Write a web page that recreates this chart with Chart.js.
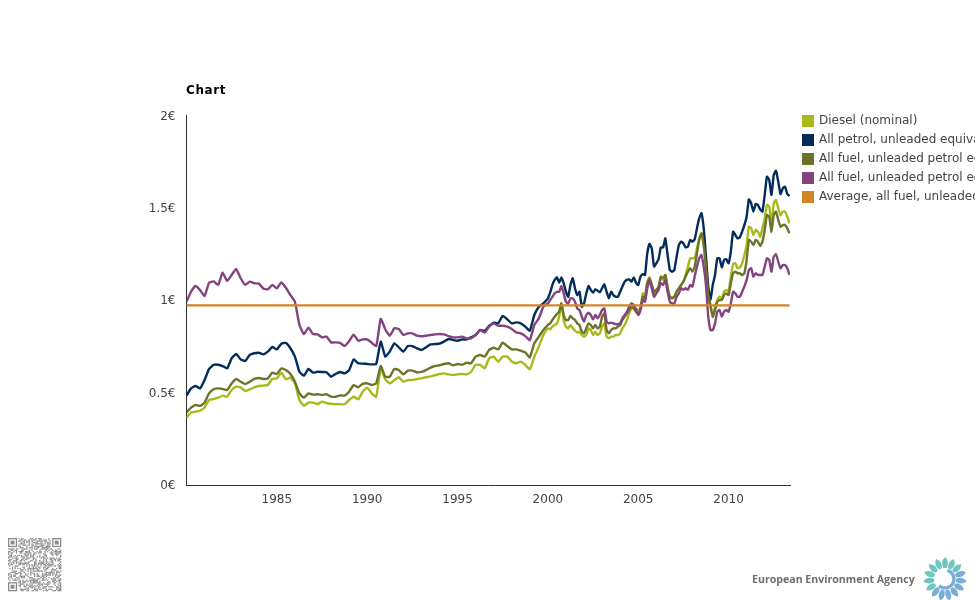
<!DOCTYPE html>
<html>
<head>
<meta charset="utf-8">
<title>Chart</title>
<script src="https://cdn.jsdelivr.net/npm/chart.js@4/dist/chart.umd.min.js"></script>
<style>
  html, body { margin: 0; padding: 0; background: #fff; overflow: hidden; }
  canvas { display: block; }
</style>
</head>
<body>
<canvas id="fuelChart" width="975" height="600"></canvas>
<script>
// Quarterly up to 1999, every 1.5 months after that
const years = [
  1980,1980.25,1980.5,1980.75, 1981,1981.25,1981.5,1981.75, 1982,1982.25,1982.5,1982.75, 1983,1983.25,1983.5,1983.75,
  1984,1984.25,1984.5,1984.75, 1985,1985.25,1985.5,1985.75, 1986,1986.25,1986.5,1986.75, 1987,1987.25,1987.5,1987.75,
  1988,1988.25,1988.5,1988.75, 1989,1989.25,1989.5,1989.75, 1990,1990.25,1990.5,1990.75, 1991,1991.25,1991.5,1991.75,
  1992,1992.25,1992.5,1992.75, 1993,1993.25,1993.5,1993.75, 1994,1994.25,1994.5,1994.75, 1995,1995.25,1995.5,1995.75,
  1996,1996.25,1996.5,1996.75, 1997,1997.25,1997.5,1997.75, 1998,1998.25,1998.5,1998.75, 1999,1999.25,1999.5,1999.75,
  2000,2000.125,2000.25,2000.375,2000.5,2000.625,2000.75,2000.875,
  2001,2001.125,2001.25,2001.375,2001.5,2001.625,2001.75,2001.875,
  2002,2002.125,2002.25,2002.375,2002.5,2002.625,2002.75,2002.875,
  2003,2003.125,2003.25,2003.375,2003.5,2003.625,2003.75,2003.875,
  2004,2004.125,2004.25,2004.375,2004.5,2004.625,2004.75,2004.875,
  2005,2005.125,2005.25,2005.375,2005.5,2005.625,2005.75,2005.875,
  2006,2006.125,2006.25,2006.375,2006.5,2006.625,2006.75,2006.875,
  2007,2007.125,2007.25,2007.375,2007.5,2007.625,2007.75,2007.875,
  2008,2008.125,2008.25,2008.375,2008.5,2008.625,2008.75,2008.875,
  2009,2009.125,2009.25,2009.375,2009.5,2009.625,2009.75,2009.875,
  2010,2010.125,2010.25,2010.375,2010.5,2010.625,2010.75,2010.875,
  2011,2011.125,2011.25,2011.375,2011.5,2011.625,2011.75,2011.875,
  2012,2012.125,2012.25,2012.375,2012.5,2012.625,2012.75,2012.875,
  2013,2013.125,2013.25,2013.375
];

const diesel = [
  .366,.392,.397,.402, .420,.460,.465,.473, .484,.478,.514,.532, .527,.509,.518,.529,
  .536,.538,.541,.574, .577,.608,.572,.581, .550,.460,.429,.446, .446,.438,.451,.444,
  .440,.438,.438,.437, .460,.478,.464,.505, .527,.496,.478,.631, .572,.550,.568,.583,
  .559,.568,.568,.574, .577,.583,.588,.594, .601,.604,.599,.595, .599,.601,.599,.613,
  .650,.650,.631,.686, .695,.668,.695,.695, .668,.659,.668,.650, .626,.695,.749,.812,
  .848,.843,.857,.866,.875,.911,.983,.893,
  .857,.848,.866,.848,.835,.825,.830,.812,
  .803,.812,.848,.839,.812,.830,.812,.821,
  .857,.875,.803,.794,.803,.803,.812,.812,
  .821,.848,.866,.893,.929,.956,.965,.956,
  .947,.956,1.037,1.019,1.101,1.124,1.083,1.037,
  1.046,1.065,1.119,1.110,1.137,1.074,1.019,1.016,
  1.019,1.046,1.065,1.083,1.101,1.137,1.182,1.227,
  1.227,1.227,1.281,1.335,1.362,1.299,1.182,1.019,
  .965,.911,.965,1.001,1.019,1.010,1.046,1.056,
  1.046,1.128,1.196,1.200,1.173,1.178,1.200,1.245,
  1.299,1.398,1.389,1.353,1.380,1.371,1.344,1.389,
  1.443,1.516,1.507,1.416,1.525,1.543,1.498,1.461,
  1.480,1.480,1.452,1.416
];

const petrol = [
  .484,.523,.536,.523, .568,.628,.650,.651, .644,.631,.686,.709, .680,.671,.704,.713,
  .716,.707,.722,.747, .734,.765,.769,.740, .695,.613,.592,.628, .608,.613,.612,.610,
  .586,.601,.612,.604, .622,.680,.659,.657, .655,.653,.655,.776, .695,.722,.767,.745,
  .722,.752,.752,.740, .731,.745,.761,.763, .765,.776,.790,.785, .781,.788,.788,.799,
  .812,.839,.834,.861, .879,.875,.915,.897, .875,.880,.875,.857, .835,.920,.965,.983,
  1.010,1.041,1.083,1.110,1.124,1.095,1.124,1.092,
  1.046,1.019,1.083,1.119,1.065,1.028,1.046,.965,
  .983,1.037,1.077,1.056,1.041,1.059,1.052,1.043,
  1.065,1.086,1.046,1.010,1.046,1.028,1.019,1.019,
  1.046,1.074,1.101,1.110,1.113,1.101,1.124,1.095,
  1.083,1.128,1.142,1.137,1.254,1.305,1.281,1.182,
  1.200,1.222,1.286,1.286,1.335,1.245,1.164,1.155,
  1.164,1.236,1.299,1.317,1.308,1.286,1.290,1.326,
  1.317,1.330,1.389,1.443,1.471,1.389,1.236,1.074,
  1.001,1.083,1.137,1.227,1.227,1.178,1.218,1.222,
  1.200,1.263,1.371,1.353,1.335,1.341,1.371,1.407,
  1.452,1.546,1.525,1.480,1.521,1.516,1.492,1.480,
  1.570,1.669,1.651,1.570,1.678,1.701,1.642,1.575,
  1.606,1.615,1.575,1.564
];

const allFuelNominal = [
  .393,.419,.433,.428, .446,.496,.518,.523, .520,.514,.550,.574, .559,.547,.559,.574,
  .579,.574,.577,.608, .601,.631,.622,.601, .559,.496,.473,.496, .489,.491,.487,.491,
  .478,.478,.485,.484, .505,.541,.529,.547, .550,.541,.550,.644, .586,.586,.628,.622,
  .599,.619,.619,.610, .612,.622,.635,.644, .648,.655,.659,.648, .655,.651,.662,.659,
  .695,.704,.695,.731, .743,.734,.770,.752, .734,.734,.727,.718, .691,.767,.803,.839,
  .866,.875,.893,.911,.926,.938,.983,.920,
  .893,.893,.915,.902,.893,.875,.866,.830,
  .821,.848,.875,.866,.848,.866,.848,.857,
  .911,.929,.839,.821,.839,.848,.848,.857,
  .866,.893,.911,.929,.947,.965,.956,.938,
  .926,.956,1.019,1.010,1.092,1.119,1.083,1.046,
  1.056,1.074,1.128,1.119,1.137,1.065,1.019,1.010,
  1.019,1.046,1.065,1.083,1.101,1.128,1.155,1.173,
  1.155,1.182,1.254,1.326,1.362,1.299,1.182,1.028,
  .974,.911,.947,.992,1.001,1.001,1.028,1.037,
  1.028,1.092,1.146,1.155,1.146,1.146,1.137,1.146,
  1.218,1.326,1.317,1.299,1.326,1.317,1.294,1.317,
  1.380,1.461,1.452,1.371,1.461,1.480,1.434,1.398,
  1.407,1.407,1.389,1.362
];

const allFuelReal = [
  .992,1.046,1.077,1.055, 1.023,1.095,1.102,1.083, 1.149,1.104,1.137,1.169, 1.119,1.083,1.101,1.092,
  1.090,1.064,1.059,1.083, 1.064,1.097,1.068,1.028, .992,.866,.817,.852, .817,.815,.799,.803,
  .772,.772,.769,.752, .779,.814,.781,.788, .788,.770,.752,.899, .843,.808,.848,.844,
  .812,.821,.821,.808, .805,.808,.812,.815, .817,.815,.806,.799, .799,.803,.794,.794,
  .812,.839,.825,.857, .875,.862,.862,.857, .844,.826,.821,.806, .785,.866,.902,.965,
  .983,1.001,1.019,1.037,1.046,1.046,1.077,1.037,
  .992,.983,1.010,1.010,.992,.956,.947,.911,
  .884,.920,.933,.920,.897,.920,.902,.920,
  .947,.956,.884,.875,.879,.875,.871,.871,
  .875,.902,.920,.938,.965,.983,.974,.947,
  .920,.947,1.001,.992,1.065,1.110,1.065,1.019,
  1.037,1.056,1.092,1.083,1.110,1.046,.992,.983,
  .983,1.019,1.037,1.065,1.056,1.065,1.056,1.083,
  1.074,1.128,1.182,1.227,1.245,1.182,1.083,.911,
  .839,.839,.875,.938,.947,.911,.938,.947,
  .938,.983,1.046,1.037,1.019,1.019,1.046,1.074,
  1.110,1.164,1.173,1.128,1.146,1.137,1.137,1.137,
  1.182,1.227,1.218,1.155,1.236,1.249,1.209,1.173,
  1.191,1.191,1.173,1.137
];

const averageYears = [1980, 2013.375];
const averageReal = [0.972, 0.972];

const xTickLabels = [1985, 1990, 1995, 2000, 2005, 2010];
const yTickLabels = ['0€', '0.5€', '1€', '1.5€', '2€'];

const seriesNames = [
  'Diesel (nominal)',
  'All petrol, unleaded equivalent (nominal)',
  'All fuel, unleaded petrol equivalent (nominal)',
  'All fuel, unleaded petrol equivalent (real)',
  'Average, all fuel, unleaded petrol equivalent (real)'
];
const seriesColors = ['#a9b91c', '#022c5a', '#6c7429', '#84427f', '#d18526'];

function points(xs, ys) {
  return xs.map((x, i) => ({ x: x, y: ys[i] }));
}

function line(i, xs, ys, order) {
  return {
    label: seriesNames[i],
    data: points(xs, ys),
    borderColor: seriesColors[i],
    borderWidth: 2.4,
    pointRadius: 0,
    tension: 0.15,
    order: order
  };
}

const FONT = 'DejaVu Sans';

// Title, clipped legend, QR block and agency logo around the plot
const decorations = {
  id: 'decorations',
  afterDraw(chart) {
    const c = chart.ctx;
    c.save();
    c.textBaseline = 'middle';
    c.textAlign = 'left';

    c.fillStyle = '#000';
    c.font = 'bold 12px "' + FONT + '"';
    c.letterSpacing = '0.6px';
    c.fillText('Chart', 186, 91);
    c.letterSpacing = '0px';

    c.font = '12px "' + FONT + '"';
    seriesNames.forEach((name, i) => {
      const y = 121 + i * 19;
      c.fillStyle = seriesColors[i];
      c.fillRect(802, y - 6, 12, 12);
      c.fillStyle = '#444';
      c.fillText(name, 819, y);
    });

    drawQr(c, 8, 538, 41, 1.3);
    drawLogo(c);
    c.restore();
  }
};

function drawQr(c, left, top, n, s) {
  c.fillStyle = '#8a8a8a';
  let seed = 7;
  for (let r = 0; r < n; r++) {
    for (let q = 0; q < n; q++) {
      seed = (seed * 75 + 74) % 65537;
      const inFinder = (r < 8 && q < 8) || (r < 8 && q >= n - 8) || (r >= n - 8 && q < 8);
      if (!inFinder && seed % 2 === 0) c.fillRect(left + q * s, top + r * s, s, s);
    }
  }
  [[0, 0], [n - 7, 0], [0, n - 7]].forEach(([q, r]) => {
    c.fillRect(left + q * s, top + r * s, 7 * s, 7 * s);
    c.fillStyle = '#fff';
    c.fillRect(left + (q + 1) * s, top + (r + 1) * s, 5 * s, 5 * s);
    c.fillStyle = '#8a8a8a';
    c.fillRect(left + (q + 2) * s, top + (r + 2) * s, 3 * s, 3 * s);
  });
}

function drawLogo(c) {
  c.fillStyle = '#6e6e6e';
  c.font = 'bold 10.6px "Open Sans"';
  c.fillText('European Environment Agency', 752, 580);

  const cx = 945, cy = 579, petals = 15;
  for (let i = 0; i < petals; i++) {
    const a = i / petals * Math.PI * 2 - Math.PI / 2;
    const blue = a > -0.5 && a < 2.3;
    c.save();
    c.translate(cx, cy);
    c.rotate(a);
    c.fillStyle = blue ? '#7aaed5' : '#6fc6c1';
    c.beginPath();
    c.moveTo(11, -1.5);
    c.quadraticCurveTo(17, -5, 22, 0);
    c.quadraticCurveTo(17, 5, 11, 1.5);
    c.closePath();
    c.fill();
    c.restore();
  }
  c.strokeStyle = '#7aaed5';
  c.lineWidth = 3.4;
  c.beginPath();
  c.arc(cx, cy, 9, -1.3, 2.3);
  c.stroke();
}

new Chart(document.getElementById('fuelChart'), {
  type: 'line',
  data: {
    datasets: [
      line(0, years, diesel, 5),
      line(1, years, petrol, 4),
      line(2, years, allFuelNominal, 3),
      line(3, years, allFuelReal, 2),
      line(4, averageYears, averageReal, 1)
    ]
  },
  options: {
    responsive: false,
    animation: false,
    layout: { padding: { left: 0, top: 115.5, right: 185, bottom: 0 } },
    plugins: {
      legend: { display: false },
      tooltip: { enabled: false }
    },
    scales: {
      x: {
        type: 'linear',
        min: 1980,
        max: 2013.4,
        afterFit(scale) { scale.height = 115; },
        border: { color: '#333', width: 1 },
        grid: { display: false, drawTicks: false },
        ticks: {
          stepSize: 5,
          includeBounds: false,
          maxRotation: 0,
          padding: 8,
          color: '#444',
          font: { family: FONT, size: 12 },
          callback: v => xTickLabels.includes(v) ? String(v) : ''
        }
      },
      y: {
        min: 0,
        max: 2,
        afterFit(scale) { scale.width = 186.5; },
        border: { color: '#333', width: 1 },
        grid: { display: false, drawTicks: false },
        ticks: {
          stepSize: 0.5,
          padding: 11,
          color: '#444',
          // two-line label with a tiny line height nudges the text 1px down
          font: { family: FONT, size: 12, lineHeight: 2 / 12 },
          callback: v => ['', yTickLabels[v * 2]]
        }
      }
    }
  },
  plugins: [decorations]
});
</script>
</body>
</html>
